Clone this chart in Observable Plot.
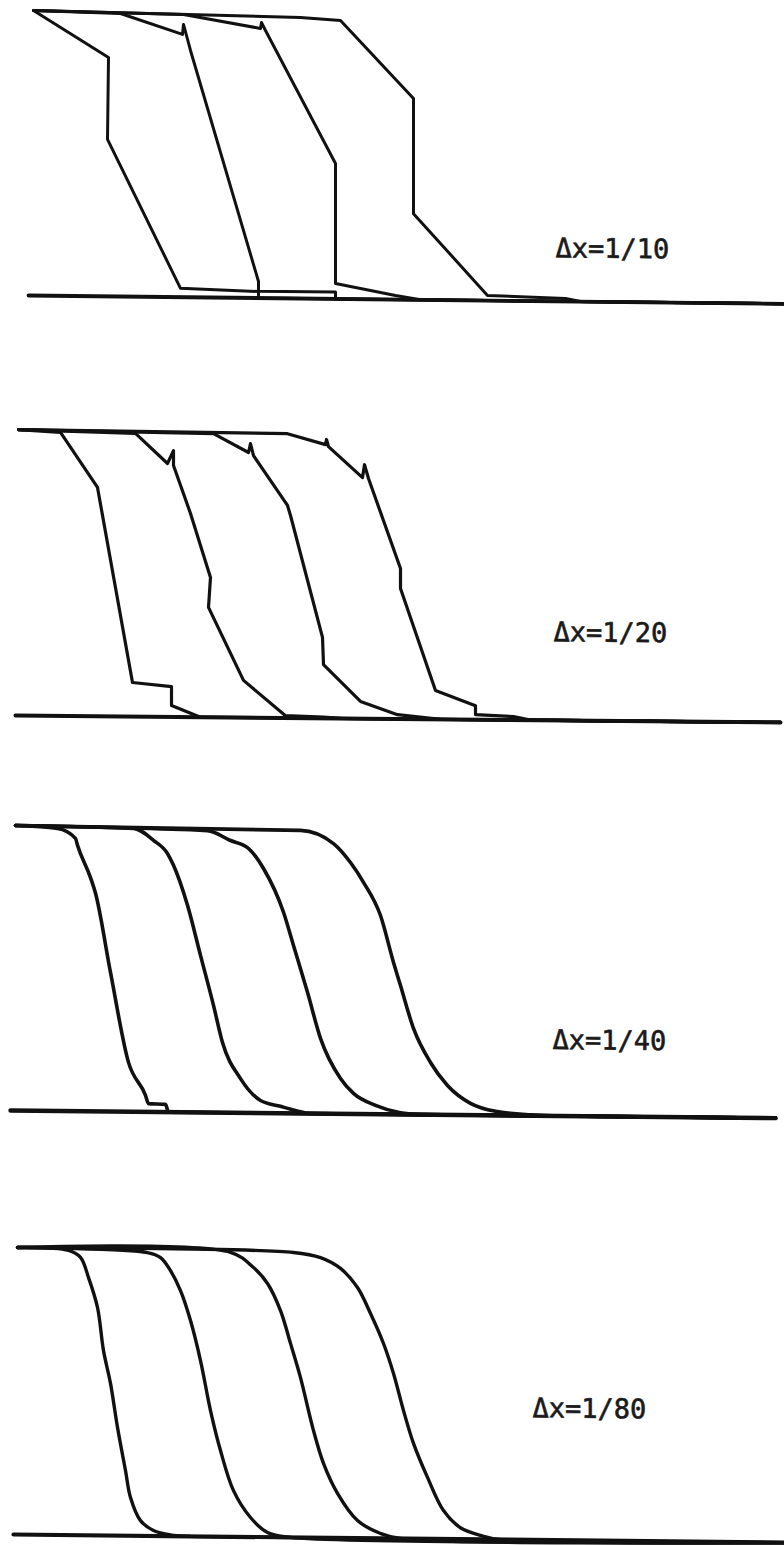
<!DOCTYPE html>
<html>
<head>
<meta charset="utf-8">
<script src="https://cdn.jsdelivr.net/npm/d3@7"></script>
<script src="https://cdn.jsdelivr.net/npm/@observablehq/plot@0.6"></script>
<style>
  html, body { margin: 0; padding: 0; background: #fff; overflow: hidden; }
  #chart { width: 784px; }
  #chart svg { display: block; }
</style>
</head>
<body>
<div id="chart"></div>
<script>
// ---- Data (x in arbitrary length units, u = solution value 0..1) ----
const labels = ["Δx=1/10", "Δx=1/20", "Δx=1/40", "Δx=1/80"];
const labelX = [5.55, 5.53, 5.52, 5.32];
const labelU = [0.185, 0.307, 0.265, 0.458];
const axisStart = [0.28, 0.15, 0.10, 0.13];
const axisEnd = [7.84, 7.80, 7.75, 7.84];

// Δx = 1/10
const dx10X = [
  [0.33, 1.08, 1.07, 1.80, 2.58, 2.58, 7.84],
  [0.33, 1.20, 1.82, 1.83, 1.90, 2.58, 2.58, 3.35, 3.35, 7.84],
  [0.33, 1.83, 2.60, 2.61, 2.65, 3.35, 3.35, 3.95, 4.20, 7.84],
  [0.33, 3.00, 3.40, 4.13, 4.13, 4.87, 5.65, 5.80, 7.84]
];
const dx10U = [
  [1, 0.838, 0.551, 0.031, 0.023, 0, 0],
  [1, 0.993, 0.922, 0.957, 0.866, 0.058, 0.024, 0.024, 0, 0],
  [1, 0.992, 0.946, 0.967, 0.939, 0.475, 0.054, 0.014, 0, 0],
  [1, 0.986, 0.977, 0.706, 0.302, 0.018, 0.010, 0, 0]
];

// Δx = 1/20
const dx20X = [
  [0.18, 0.60, 0.97, 1.32, 1.71, 1.71, 2.00, 7.80],
  [0.18, 1.35, 1.67, 1.73, 1.73, 1.90, 2.10, 2.08, 2.43, 2.85, 3.23, 3.40, 7.80],
  [0.18, 2.13, 2.48, 2.50, 2.53, 2.87, 2.90, 3.22, 3.23, 3.60, 3.97, 4.40, 7.80],
  [0.18, 2.87, 3.25, 3.26, 3.28, 3.62, 3.64, 3.68, 4.00, 4.00, 4.35, 4.75, 4.75, 5.13, 5.30, 7.80]
];
const dx20U = [
  [1, 0.991, 0.800, 0.119, 0.106, 0.040, 0, 0],
  [1, 0.990, 0.886, 0.931, 0.879, 0.712, 0.489, 0.384, 0.130, 0.008, 0.004, 0, 0],
  [1, 0.992, 0.927, 0.958, 0.916, 0.743, 0.708, 0.283, 0.188, 0.060, 0.015, 0, 0],
  [1, 0.994, 0.957, 0.975, 0.950, 0.843, 0.888, 0.840, 0.526, 0.456, 0.101, 0.049, 0.018, 0.012, 0, 0]
];

// Δx = 1/40
const dx40X = [
  [0.15, 0.57, 0.75, 0.77, 0.90, 0.95, 1.10, 1.28, 1.45, 1.48, 1.65, 1.68, 7.75],
  [0.15, 1.33, 1.53, 1.67, 1.73, 1.87, 2.00, 2.13, 2.22, 2.40, 2.60, 2.80, 2.95, 3.10, 7.75],
  [0.15, 2.07, 2.30, 2.47, 2.63, 2.83, 2.93, 3.07, 3.20, 3.40, 3.53, 3.75, 4.00, 4.20, 7.75],
  [0.15, 3.00, 3.33, 3.50, 3.63, 3.80, 3.93, 4.00, 4.13, 4.30, 4.47, 4.70, 4.95, 5.30, 5.60, 7.75]
];
const dx40U = [
  [1, 0.991, 0.957, 0.933, 0.820, 0.765, 0.488, 0.173, 0.058, 0.029, 0.027, 0, 0],
  [1, 0.994, 0.953, 0.907, 0.866, 0.726, 0.551, 0.376, 0.246, 0.120, 0.044, 0.024, 0.010, 0, 0],
  [1, 0.989, 0.955, 0.931, 0.858, 0.705, 0.589, 0.425, 0.264, 0.124, 0.072, 0.031, 0.006, 0, 0],
  [1, 0.993, 0.948, 0.882, 0.813, 0.697, 0.533, 0.452, 0.302, 0.183, 0.103, 0.041, 0.014, 0.003, 0, 0]
];

// Δx = 1/80
const dx80X = [
  [0.17, 0.68, 0.80, 0.88, 0.97, 1.03, 1.10, 1.17, 1.25, 1.30, 1.40, 1.53, 1.70, 1.90, 7.84],
  [0.17, 1.47, 1.60, 1.70, 1.80, 1.90, 2.00, 2.10, 2.20, 2.33, 2.50, 2.67, 2.90, 7.84],
  [0.17, 2.30, 2.53, 2.67, 2.80, 2.90, 3.00, 3.13, 3.23, 3.37, 3.57, 3.80, 4.00, 7.84],
  [0.17, 2.93, 3.20, 3.40, 3.57, 3.70, 3.83, 3.93, 4.03, 4.13, 4.27, 4.43, 4.60, 4.80, 5.00, 7.84]
];
const dx80U = [
  [1, 0.992, 0.968, 0.898, 0.794, 0.644, 0.530, 0.377, 0.227, 0.133, 0.053, 0.019, 0.004, 0, 0],
  [1, 0.987, 0.970, 0.925, 0.856, 0.752, 0.613, 0.439, 0.300, 0.161, 0.068, 0.016, 0, 0],
  [1, 0.991, 0.939, 0.884, 0.790, 0.676, 0.557, 0.373, 0.259, 0.155, 0.061, 0.017, 0, 0],
  [1, 0.993, 0.976, 0.939, 0.873, 0.783, 0.679, 0.575, 0.446, 0.332, 0.214, 0.099, 0.040, 0.014, 0, 0]
];

// ---- Layout (styles, not data) ----
const seriesX = [dx10X, dx20X, dx40X, dx80X];
const seriesU = [dx10U, dx20U, dx40U, dx80U];
const layout = [
  {h: 419, mb: 124, skew: 0.63, origin: "28px 295px", curve: "linear", sw: 3.0},
  {h: 396, mb: 100, skew: 0.52, origin: "15px 296px", curve: "linear", sw: 3.2},
  {h: 422, mb: 127, skew: 0.57, origin: "10px 295px", curve: "monotone-x", sw: 3.6},
  {h: 308, mb: 11,  skew: 0.60, origin: "13px 297px", curve: "catmull-rom", sw: 3.4}
];

const ink = "#111";
const chart = document.getElementById("chart");

layout.forEach((L, p) => {
  const rows = [];
  seriesX[p].forEach((xs, i) => xs.forEach((x, j) => rows.push({curve: i, x, u: seriesU[p][i][j]})));
  const axisRows = [{x: axisStart[p], u: 0}, {x: axisEnd[p], u: 0}];
  const svg = Plot.plot({
    width: 784,
    height: L.h,
    marginTop: 10,
    marginBottom: L.mb,
    marginLeft: 0,
    marginRight: 0,
    style: {background: "#fff"},
    x: {domain: [0, 7.84], axis: null},
    y: {domain: [0, 1], axis: null},
    marks: [
      Plot.line(axisRows, {x: "x", y: "u", stroke: ink, strokeWidth: L.sw + 0.8, strokeLinecap: "round"}),
      Plot.line(rows, {x: "x", y: "u", z: "curve", stroke: ink, strokeWidth: L.sw,
        curve: L.curve, strokeLinejoin: "round", strokeLinecap: "round"}),
      Plot.text([labels[p]], {x: labelX[p], y: labelU[p], text: d => d,
        textAnchor: "start", lineAnchor: "middle", fontSize: 27,
        fontFamily: "DejaVu Sans Mono", fill: "#1a1a1a",
        stroke: "#1a1a1a", strokeWidth: 0.6})
    ]
  });
  svg.style.transform = `skewY(${L.skew}deg)`;
  svg.style.transformOrigin = L.origin;
  chart.append(svg);
});
</script>
</body>
</html>
